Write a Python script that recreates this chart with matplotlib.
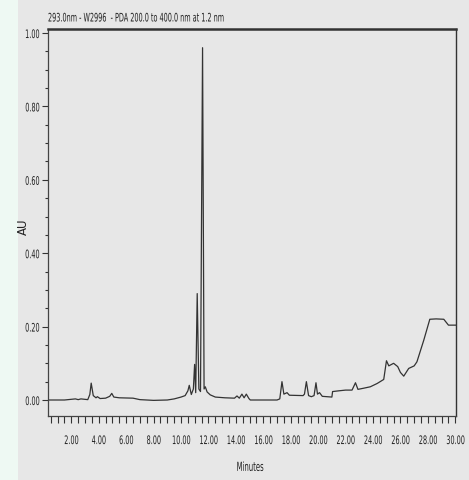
import numpy as np
import matplotlib.pyplot as plt
from matplotlib.patches import Rectangle
from matplotlib.patheffects import AbstractPathEffect
from matplotlib.transforms import Affine2D

# chromatogram trace: retention time (min) and absorbance (AU)
minutes = [0.3, 1.5, 2.3, 2.5, 2.7, 3.2, 3.35, 3.45, 3.6, 3.8, 3.9, 4.1, 4.5, 4.8, 4.95, 5.1,
           5.5, 6.5, 7.0, 8.0, 9.0, 9.5, 10.0, 10.3, 10.5, 10.6, 10.75, 10.9, 10.99, 11.07,
           11.18, 11.3, 11.42, 11.57, 11.68, 11.77, 11.9, 12.13, 12.5, 13.2, 13.9, 14.08,
           14.25, 14.44, 14.6, 14.76, 14.95, 15.05, 17.0, 17.2, 17.36, 17.5, 17.73, 17.9,
           18.9, 19.0, 19.14, 19.3, 19.5, 19.7, 19.84, 19.95, 20.1, 20.3, 21.0, 21.05,
           21.5, 22.0, 22.47, 22.72, 22.9, 23.3, 23.8, 24.3, 24.78, 24.98, 25.15, 25.5,
           25.8, 26.0, 26.24, 26.6, 27.0, 27.2, 27.7, 28.14, 28.6, 29.16, 29.5, 30.05]
au = [0.000, 0.000, 0.003, 0.001, 0.003, 0.001, 0.015, 0.046, 0.012, 0.006, 0.009, 0.004,
      0.005, 0.010, 0.018, 0.008, 0.006, 0.005, 0.001, -0.001, 0.000, 0.003, 0.008, 0.012,
      0.025, 0.040, 0.015, 0.030, 0.097, 0.020, 0.290, 0.030, 0.023, 0.960, 0.030, 0.036,
      0.022, 0.014, 0.008, 0.006, 0.005, 0.011, 0.005, 0.016, 0.006, 0.016, 0.004, 0.000,
      0.000, 0.003, 0.050, 0.016, 0.020, 0.013, 0.012, 0.016, 0.050, 0.012, 0.009, 0.012,
      0.047, 0.016, 0.020, 0.010, 0.008, 0.023, 0.025, 0.027, 0.027, 0.047, 0.029, 0.032,
      0.036, 0.045, 0.056, 0.107, 0.093, 0.100, 0.091, 0.075, 0.065, 0.086, 0.093, 0.104,
      0.163, 0.220, 0.221, 0.220, 0.204, 0.204]

title = "293.0nm - W2996  - PDA 200.0 to 400.0 nm at 1.2 nm"
xticks = np.arange(2, 31, 2)
yticks = np.arange(0, 1.01, 0.2)


# the instrument prints its text tall and narrow: squeeze the glyphs sideways
class Squeeze(AbstractPathEffect):
    def __init__(self, sx=0.55, align='left'):
        super().__init__()
        self.sx = sx
        self.align = align

    def draw_path(self, renderer, gc, tpath, affine, rgbFace=None):
        ext = tpath.get_extents()
        shift = 0
        if self.align == 'center':
            shift = (1 - self.sx) * (ext.x0 + ext.x1) / 2
        elif self.align == 'right':
            shift = (1 - self.sx) * ext.x1
        a = Affine2D().scale(self.sx, 1).translate(shift, 0) + affine
        renderer.draw_path(gc, tpath, a, rgbFace)


fig = plt.figure(figsize=(4.69, 4.8), dpi=100, facecolor='#e7e7e7')
fig.patches.append(Rectangle((0, 0), 18 / 469, 1, transform=fig.transFigure,
                             facecolor='#eef9f3', edgecolor='none', zorder=-1))
ax = fig.add_axes([48 / 469, 1 - 416 / 480, 408 / 469, 387 / 480])
ax.set_facecolor('#e7e7e7')

ax.plot(minutes, au, color='#333333', lw=0.9)

ax.set_xlim(0.3, 30.05)
ax.set_ylim(-0.0436, 1.011)
ax.set_xticks(xticks)
ax.set_xticklabels(['%.2f' % v for v in xticks])
ax.set_xticks(np.arange(0.5, 30.01, 0.5), minor=True)
ax.set_yticks(yticks)
ax.set_yticklabels(['%.2f' % v for v in yticks])
ax.set_yticks(np.arange(0, 1.001, 0.05), minor=True)
ax.tick_params(axis='both', which='major', labelsize=8.5, color='#333333', width=0.8,
               labelcolor='#222222')
ax.tick_params(axis='x', which='both', length=5)
ax.tick_params(axis='x', which='minor', color='#333333', width=0.8)
ax.tick_params(axis='y', which='major', length=4, pad=2)
ax.tick_params(axis='y', which='minor', length=2, color='#333333', width=0.8)
ax.tick_params(axis='x', pad=8)
for lbl in ax.get_xticklabels():
    lbl.set_path_effects([Squeeze(0.55, 'center')])
for lbl in ax.get_yticklabels():
    lbl.set_path_effects([Squeeze(0.55, 'right')])

for side in ['left', 'bottom']:
    ax.spines[side].set_color('#444444')
    ax.spines[side].set_linewidth(0.9)
ax.spines['top'].set_color('#333333')
ax.spines['top'].set_linewidth(1.8)
ax.spines['right'].set_color('#333333')
ax.spines['right'].set_linewidth(1.0)

ax.set_xlabel('Minutes', fontsize=9, color='#222222',
              path_effects=[Squeeze(0.55, 'center')])
ax.xaxis.set_label_coords(0.495, -0.116)
ax.set_ylabel('AU', fontsize=8.5, color='#222222')
ax.yaxis.set_label_coords(-0.045, 0.49)
fig.text(48 / 469, 1 - 18 / 480, title, fontsize=8.5, ha='left', va='center',
         color='#222222', path_effects=[Squeeze(0.55, 'left')])

fig.savefig('out.png', dpi=100, facecolor=fig.get_facecolor())
